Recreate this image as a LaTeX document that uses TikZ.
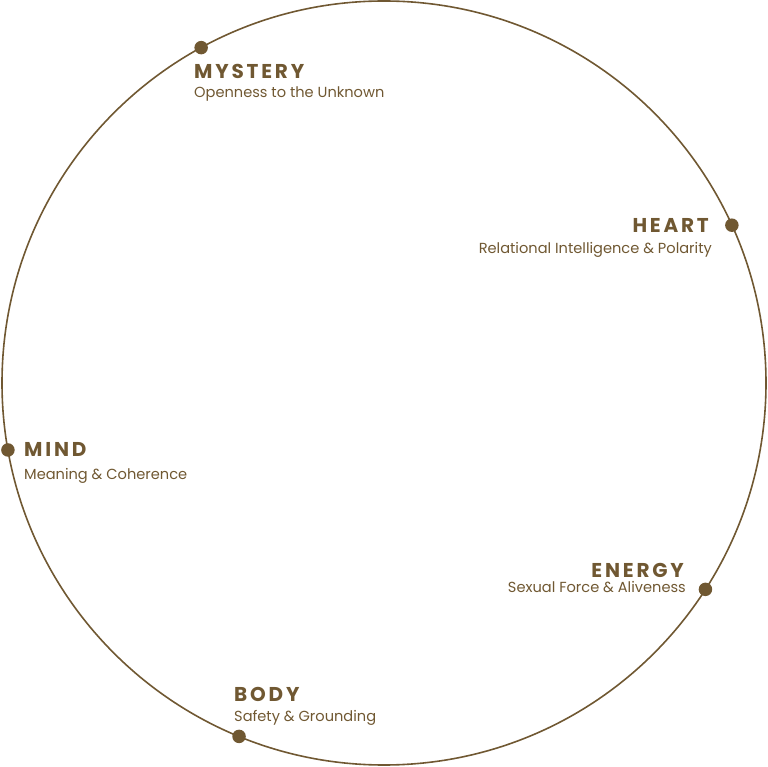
\documentclass[tikz,border=0pt]{standalone}
\usepackage{fontspec}
\usepackage{xcolor}
\usetikzlibrary{calc}
\setmainfont{Poppins}
\newfontfamily\titlefont[LetterSpace=14]{Poppins}
\definecolor{bronze}{RGB}{112,88,50}

\tikzset{
  ring/.style={draw=bronze, line width=1.6pt},
  dot/.style={circle, fill=bronze, inner sep=0pt, minimum size=13.5pt},
  title/.style={text=bronze, inner sep=0pt, font=\titlefont\bfseries\fontsize{20}{22}\selectfont},
  subtitle/.style={text=bronze, inner sep=0pt, font=\fontsize{14.6}{17}\selectfont}
}

\begin{document}
\begin{tikzpicture}[x=1pt, y=1pt]
  \useasboundingbox (0, 0) rectangle (768, 766);
  \coordinate (c) at (384, 383);
  \draw[ring] (c) circle (382);

  % points on the ring
  \foreach \a/\n in {118.6/mystery, 24.4/heart, 190.1/mind, -32.7/energy, 247.7/body} {
    \node[dot] (\n) at ($(c) + (\a:382)$) {};
  }

  \node[title, anchor=base west] (mysteryT) at (194, 687) {MYSTERY};
  \node[subtitle, anchor=base west] (mysteryS) at (194, 668) {Openness to the Unknown};

  \node[title, anchor=base east] (heartT) at (709, 533) {HEART};
  \node[subtitle, anchor=base east] (heartS) at (712, 512) {Relational Intelligence \& Polarity};

  \node[title, anchor=base east] (energyT) at (684, 189) {ENERGY};
  \node[subtitle, anchor=base east] (energyS) at (686, 174) {Sexual Force \& Aliveness};

  \node[title, anchor=base west] (mindT) at (24, 309) {MIND};
  \node[subtitle, anchor=base west] (mindS) at (24, 286) {Meaning \& Coherence};

  \node[title, anchor=base west] (bodyT) at (234, 65) {BODY};
  \node[subtitle, anchor=base west] (bodyS) at (234, 45) {Safety \& Grounding};
\end{tikzpicture}
\end{document}
